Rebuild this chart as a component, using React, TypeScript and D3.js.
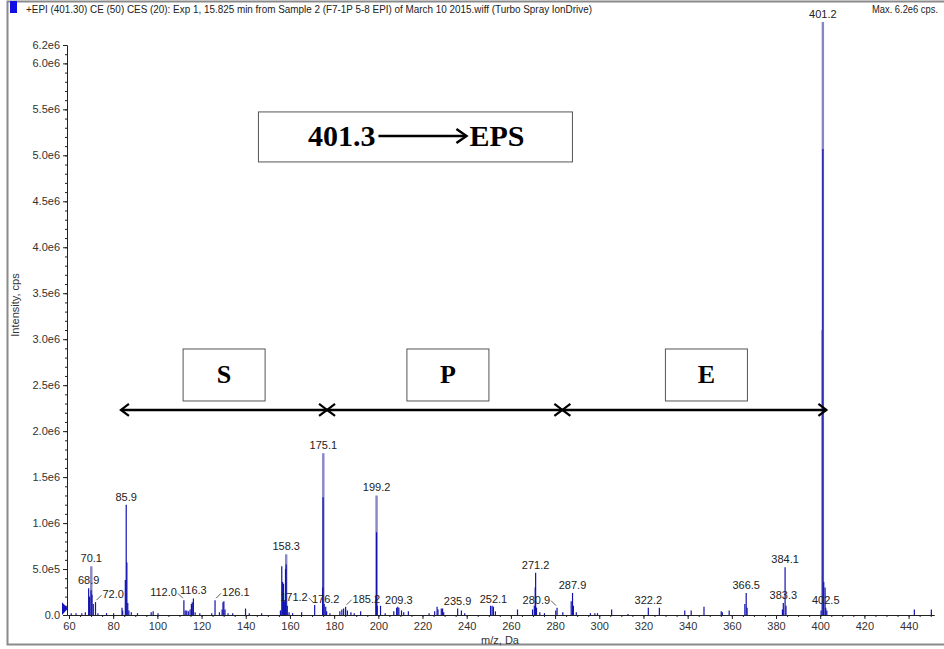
import React, { useRef, useEffect } from 'react';
import * as d3 from 'd3';

const width = 944;
const height = 649;

// centroid sticks of the spectrum, m/z and intensity (cps)
const stickMz = [
  61.0, 63.2, 65.8, 67.4, 68.9, 69.3, 70.0, 70.4, 71.0, 72.0, 73.1, 77.0, 80.2,
  84.0, 84.3, 85.5, 85.9, 86.2, 86.6, 87.1, 88.2, 91.0, 97.2, 98.1, 100.3,
  112.0, 112.6, 113.3, 114.0, 114.8, 115.4, 115.8, 116.3, 117.1, 119.2, 124.6, 126.1,
  128.1, 129.3, 129.7, 130.1, 130.6, 132.0, 134.1, 139.9, 141.6, 147.2,
  155.7, 156.3, 156.7, 157.1, 157.6, 158.0, 158.3, 158.8, 159.6, 161.2, 165.3, 171.2,
  174.8, 175.0, 175.5, 176.2, 176.6, 178.1,
  182.6, 183.5, 184.3, 185.2, 186.0, 187.6, 189.1, 192.0, 198.9, 199.2, 199.5, 201.0, 203.1,
  207.0, 208.3, 208.8, 209.3, 210.5, 211.5, 213.6, 223.0, 225.5, 226.6, 227.0, 228.5, 229.1, 229.6,
  235.9, 237.6, 239.1, 250.8, 251.5, 252.1, 253.0, 263.0, 269.8, 270.6, 271.0, 271.2, 271.6, 273.1, 275.2,
  280.3, 280.9, 283.5, 287.3, 287.9, 288.3, 289.6, 296.0, 298.0, 299.2, 305.6, 313.0,
  322.2, 327.2, 338.7, 341.6, 347.4, 355.2, 355.7, 358.8, 365.9, 366.5, 366.9,
  382.9, 383.3, 384.1, 384.5, 400.4, 401.2, 401.6, 402.2, 402.5, 403.0, 442.6, 450.3,
];
const stickInt = [
  0.02e6, 0.02e6, 0.02e6, 0.03e6, 0.29e6, 0.2e6, 0.27e6, 0.22e6, 0.12e6, 0.14e6, 0.02e6, 0.02e6, 0.02e6,
  0.08e6, 0.05e6, 0.38e6, 1.2e6, 0.57e6, 0.13e6, 0.05e6, 0.03e6, 0.02e6, 0.03e6, 0.04e6, 0.02e6,
  0.16e6, 0.05e6, 0.05e6, 0.04e6, 0.06e6, 0.12e6, 0.14e6, 0.18e6, 0.03e6, 0.02e6, 0.02e6, 0.16e6,
  0.03e6, 0.06e6, 0.14e6, 0.15e6, 0.06e6, 0.02e6, 0.02e6, 0.07e6, 0.02e6, 0.02e6,
  0.05e6, 0.53e6, 0.36e6, 0.34e6, 0.15e6, 0.5e6, 0.55e6, 0.1e6, 0.03e6, 0.02e6, 0.03e6, 0.11e6,
  0.3e6, 1.28e6, 0.12e6, 0.09e6, 0.04e6, 0.02e6,
  0.04e6, 0.06e6, 0.07e6, 0.09e6, 0.05e6, 0.03e6, 0.02e6, 0.04e6, 0.2e6, 0.9e6, 0.1e6, 0.1e6, 0.02e6,
  0.04e6, 0.08e6, 0.09e6, 0.08e6, 0.05e6, 0.03e6, 0.04e6, 0.02e6, 0.04e6, 0.09e6, 0.06e6, 0.07e6, 0.07e6, 0.03e6,
  0.07e6, 0.05e6, 0.02e6, 0.1e6, 0.1e6, 0.09e6, 0.04e6, 0.06e6, 0.06e6, 0.1e6, 0.3e6, 0.46e6, 0.08e6, 0.03e6, 0.02e6,
  0.05e6, 0.08e6, 0.03e6, 0.15e6, 0.24e6, 0.1e6, 0.03e6, 0.02e6, 0.02e6, 0.02e6, 0.06e6, 0.01e6,
  0.08e6, 0.08e6, 0.05e6, 0.05e6, 0.09e6, 0.04e6, 0.03e6, 0.05e6, 0.12e6, 0.24e6, 0.08e6,
  0.06e6, 0.13e6, 0.52e6, 0.1e6, 0.05e6, 5.07e6, 0.36e6, 0.3e6, 0.08e6, 0.05e6, 0.06e6, 0.06e6,
];

// profile tops of the strongest peaks (drawn lighter)
const profileMz = [70.1, 158.3, 175.1, 199.2, 401.0, 401.2];
const profileInt = [0.53e6, 0.66e6, 1.76e6, 1.3e6, 3.1e6, 6.45e6];

// peak labels
const labelText = ['401.2', '175.1', '85.9', '199.2', '158.3', '70.1', '68.9', '72.0', '112.0', '116.3',
  '126.1', '171.2', '176.2', '185.2', '209.3', '235.9', '252.1', '271.2', '280.9', '287.9',
  '322.2', '366.5', '383.3', '384.1', '402.5'];
const labelSide = [0, 0, 0, 0, 0, 0, 0, 1, -1, 0, 1, -1, 0, 1, 0, 0, 0, 0, -1, 0, 0, 0, 0, 0, 0];

const yTickValues = [0, 0.5e6, 1e6, 1.5e6, 2e6, 2.5e6, 3e6, 3.5e6, 4e6, 4.5e6, 5e6, 5.5e6, 6e6, 6.2e6];
const yTickLabels = ['0.0', '5.0e5', '1.0e6', '1.5e6', '2.0e6', '2.5e6', '3.0e6', '3.5e6', '4.0e6',
  '4.5e6', '5.0e6', '5.5e6', '6.0e6', '6.2e6'];
const xTickValues = [60, 80, 100, 120, 140, 160, 180, 200, 220, 240, 260, 280, 300, 320, 340, 360, 380, 400, 420, 440];

// fragment regions along the m/z axis
const regionNames = ['S', 'P', 'E'];
const regionBounds = [83.5, 176.8, 283.3, 402.8];
const regionBoxMz = [130.2, 231.5, 348.5];
const regionLevel = 2.23e6;

const headerText = '+EPI (401.30) CE (50) CES (20): Exp 1, 15.825 min from Sample 2 (F7-1P 5-8 EPI) of March 10 2015.wiff (Turbo Spray IonDrive)';
const maxText = 'Max. 6.2e6 cps.';

const sans = 'Arial, "Liberation Sans", sans-serif';
const serif = '"Times New Roman", "Liberation Serif", serif';

const Spectrum = () => {
  const ref = useRef(null);

  useEffect(() => {
    const svg = d3.select(ref.current);
    svg.selectAll('*').remove();

    const x = d3.scaleLinear().domain([59.1, 451.5]).range([67, 934]);
    const y = d3.scaleLinear().domain([0, 6.2e6]).range([615, 45]);

    svg.append('rect').attr('width', width).attr('height', height).attr('fill', '#fff');

    // frame
    svg.append('rect')
      .attr('x', 7.5).attr('y', 1.5).attr('width', 945).attr('height', 643)
      .attr('fill', 'none').attr('stroke', '#8a8a8a').attr('stroke-width', 2);

    // header
    svg.append('rect').attr('x', 10).attr('y', 1).attr('width', 7).attr('height', 12).attr('fill', '#1010e0');
    svg.append('text')
      .attr('x', 26).attr('y', 13)
      .attr('textLength', 566).attr('lengthAdjust', 'spacingAndGlyphs')
      .style('font-family', sans).style('font-size', '11px').attr('fill', '#222')
      .text(headerText);
    svg.append('text')
      .attr('x', 938).attr('y', 13).attr('text-anchor', 'end')
      .attr('textLength', 66).attr('lengthAdjust', 'spacingAndGlyphs')
      .style('font-family', sans).style('font-size', '11px').attr('fill', '#222')
      .text(maxText);

    // axes
    const yAxis = svg.append('g').attr('transform', 'translate(67,0)')
      .call(d3.axisLeft(y).tickValues(yTickValues).tickFormat((d, i) => yTickLabels[i]).tickSize(4).tickSizeOuter(0));
    svg.append('g').attr('transform', 'translate(67,0)')
      .call(d3.axisLeft(y).tickValues(d3.range(0, 6.2e6, 1e5)).tickFormat(() => '').tickSize(2).tickSizeOuter(0));
    const xAxis = svg.append('g').attr('transform', 'translate(0,615)')
      .call(d3.axisBottom(x).tickValues(xTickValues).tickFormat(d3.format('d')).tickSize(4).tickSizeOuter(0));
    svg.append('g').attr('transform', 'translate(0,615)')
      .call(d3.axisBottom(x).tickValues(d3.range(60, 451, 5)).tickFormat(() => '').tickSize(2).tickSizeOuter(0));
    svg.selectAll('.domain, .tick line').attr('stroke', '#222');
    [yAxis, xAxis].forEach(g => g.selectAll('text')
      .style('font-family', sans).style('font-size', '11px').attr('fill', '#333'));

    svg.append('text')
      .attr('transform', 'translate(19,305) rotate(-90)').attr('text-anchor', 'middle')
      .style('font-family', sans).style('font-size', '11px').attr('fill', '#333')
      .text('Intensity, cps');
    svg.append('text')
      .attr('x', 500).attr('y', 644).attr('text-anchor', 'middle')
      .style('font-family', sans).style('font-size', '11px').attr('fill', '#333')
      .text('m/z, Da');

    // edge marker at the start of the x axis
    svg.append('path')
      .attr('d', `M${x.range()[0] - 5},${y(0.14e6)}L${x.range()[0] + 1},${y(0.07e6)}L${x.range()[0] - 5},${y(0)}Z`)
      .attr('fill', '#1515c0');

    // spectrum
    svg.append('g').selectAll('line')
      .data(profileMz.map((m, i) => [m, profileInt[i]]))
      .join('line')
      .attr('x1', d => x(d[0])).attr('x2', d => x(d[0]))
      .attr('y1', y(0)).attr('y2', d => y(d[1]))
      .attr('stroke', '#8787c6').attr('stroke-width', 2.4);
    svg.append('g').selectAll('line')
      .data(stickMz.map((m, i) => [m, stickInt[i]]))
      .join('line')
      .attr('x1', d => x(d[0])).attr('x2', d => x(d[0]))
      .attr('y1', y(0)).attr('y2', d => y(d[1]))
      .attr('stroke', '#1212b0').attr('stroke-width', 1.2);

    // peak labels
    const topOf = (mz: number) => {
      let best = 0;
      stickMz.forEach((m, i) => { if (Math.abs(m - mz) < 0.05) best = Math.max(best, stickInt[i]); });
      profileMz.forEach((m, i) => { if (Math.abs(m - mz) < 0.05) best = Math.max(best, profileInt[i]); });
      return best;
    };
    const lab = svg.append('g');
    labelText.forEach((t, i) => {
      const mz = +t;
      const px = x(mz);
      const py = y(topOf(mz));
      const side = labelSide[i];
      if (side !== 0) {
        lab.append('line')
          .attr('x1', px + side).attr('y1', py - 2)
          .attr('x2', px + side * 6).attr('y2', py - 7)
          .attr('stroke', '#333').attr('stroke-width', 0.8);
      }
      lab.append('text')
        .attr('x', side === 0 ? px : px + side * 7)
        .attr('y', py - 4)
        .attr('text-anchor', side === 0 ? 'middle' : side > 0 ? 'start' : 'end')
        .style('font-family', sans).style('font-size', '11px').attr('fill', '#222')
        .text(t);
    });

    // fragment region arrows and boxes
    const ay = y(regionLevel);
    const ann = svg.append('g').attr('stroke', '#000').attr('fill', 'none');
    ann.append('line')
      .attr('x1', x(regionBounds[0])).attr('x2', x(regionBounds[regionBounds.length - 1]))
      .attr('y1', ay).attr('y2', ay).attr('stroke-width', 2.5);
    regionBounds.forEach((b, i) => {
      const bx = x(b);
      if (i > 0) {
        ann.append('path').attr('d', `M${bx - 8},${ay - 6}L${bx},${ay}L${bx - 8},${ay + 6}`).attr('stroke-width', 2.2);
      }
      if (i < regionBounds.length - 1) {
        ann.append('path').attr('d', `M${bx + 8},${ay - 6}L${bx},${ay}L${bx + 8},${ay + 6}`).attr('stroke-width', 2.2);
      }
    });
    regionNames.forEach((n, i) => {
      const cx = x(regionBoxMz[i]);
      ann.append('rect')
        .attr('x', cx - 41).attr('y', ay - 61).attr('width', 82).attr('height', 52)
        .attr('stroke', '#555').attr('stroke-width', 1);
      svg.append('text')
        .attr('x', cx).attr('y', ay - 27).attr('text-anchor', 'middle')
        .style('font-family', serif).style('font-size', '26px').style('font-weight', 'bold')
        .attr('fill', '#000').text(n);
    });

    // transition title box
    const tx = x(216.8);
    const ty = y(5.2e6);
    svg.append('rect')
      .attr('x', tx - 157).attr('y', ty - 25).attr('width', 314).attr('height', 50)
      .attr('fill', 'none').attr('stroke', '#555').attr('stroke-width', 1);
    svg.append('text')
      .attr('x', tx - 40).attr('y', ty + 9).attr('text-anchor', 'end')
      .style('font-family', serif).style('font-size', '30px').style('font-weight', 'bold')
      .attr('fill', '#000').text('401.3');
    svg.append('line')
      .attr('x1', tx - 37).attr('x2', tx + 50).attr('y1', ty - 1).attr('y2', ty - 1)
      .attr('stroke', '#000').attr('stroke-width', 2.5);
    svg.append('path')
      .attr('d', `M${tx + 41},${ty - 8}L${tx + 51},${ty - 1}L${tx + 41},${ty + 6}`)
      .attr('fill', 'none').attr('stroke', '#000').attr('stroke-width', 2.5);
    svg.append('text')
      .attr('x', tx + 54).attr('y', ty + 9).attr('text-anchor', 'start')
      .style('font-family', serif).style('font-size', '30px').style('font-weight', 'bold')
      .attr('fill', '#000').text('EPS');
  }, []);

  return (
    <svg ref={ref} width={width} height={height}
      style={{ position: 'absolute', left: 0, top: 0, display: 'block' }} />
  );
};

export default function App() {
  return <Spectrum />;
}
